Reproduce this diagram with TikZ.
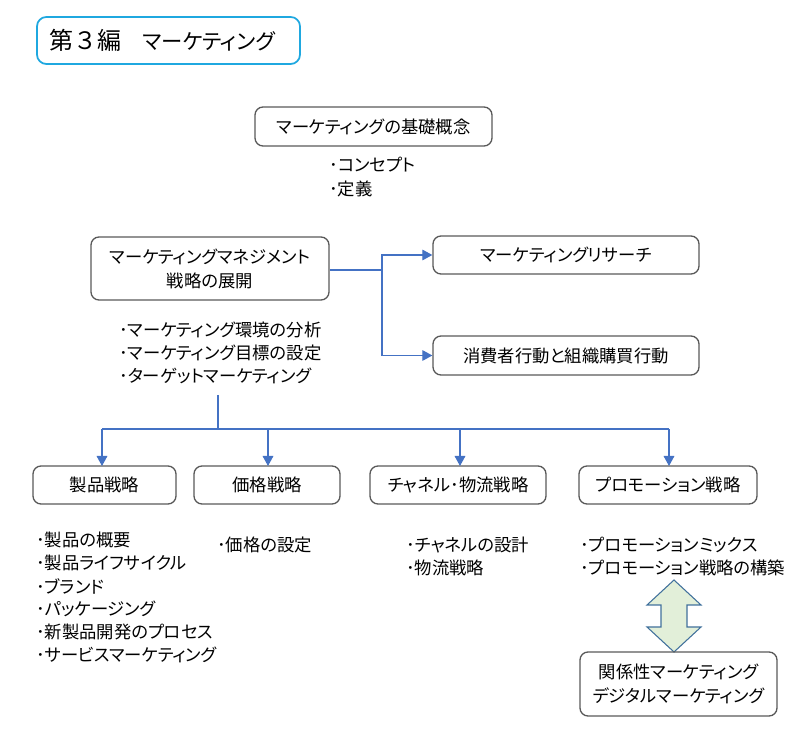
\documentclass[tikz,border=0pt]{standalone}
\usepackage{fontspec}
\setmainfont{Noto Sans CJK JP}[RawFeature=+palt]
\newfontfamily\fwfont{Noto Sans CJK JP}
\usetikzlibrary{arrows.meta}
\definecolor{conn}{HTML}{4472C4}
\definecolor{boxline}{HTML}{595959}
\definecolor{titleline}{HTML}{1FA8E0}
\definecolor{arrfill}{HTML}{E2EFD9}
\definecolor{arrline}{HTML}{41719C}
\tikzset{
  box/.style={draw=boxline, line width=1pt, rounded corners=6pt, inner sep=0pt, align=center, font=\fontsize{13}{18}\selectfont},
  conline/.style={draw=conn, line width=0.8pt},
  conarrow/.style={conline, -{Triangle[length=7.5pt,width=8pt]}},
  bul/.style={anchor=west, inner sep=0pt, font=\fontsize{13}{14}\selectfont}
}
\begin{document}
\begin{tikzpicture}[x=0.75pt,y=-0.75pt]
\useasboundingbox (0,0) rectangle (800,730);
% title
\node[draw=titleline, line width=1.3pt, rounded corners=7pt, minimum width=263*0.75pt, minimum height=47*0.75pt, inner sep=0pt] (title) at (168.5,40.5) {};
\node[anchor=west, inner sep=0pt, font=\fontsize{16}{18}\selectfont] (titletext) at (49,40.5) {{\fwfont\fontsize{18}{18}\selectfont 第３編}{\fwfont 　}マーケティング};
% top box
\node[box, minimum width=237*0.75pt, minimum height=39*0.75pt] (basic) at (373.5,126.5) {マーケティングの基礎概念};
\node[bul] (b1) at (329,165) {･コンセプト};
\node[bul] (b2) at (329,189) {･定義};
% management
\node[box, minimum width=238*0.75pt, minimum height=63*0.75pt] (mgmt) at (210,268.5) {マーケティングマネジメント\\戦略の展開};
\node[box, minimum width=266*0.75pt, minimum height=38*0.75pt] (research) at (566,255) {マーケティングリサーチ};
\node[box, minimum width=266*0.75pt, minimum height=39*0.75pt] (consumer) at (566,355.5) {消費者行動と組織購買行動};
\coordinate (split) at (382,270);
\draw[conline] (mgmt.east |- split) -- (split);
\draw[conarrow] (split) |- (research.west);
\draw[conarrow] (split) |- (consumer.west);
\node[bul] (m1) at (119,330) {･マーケティング環境の分析};
\node[bul] (m2) at (119,353) {･マーケティング目標の設定};
\node[bul] (m3) at (119,376) {･ターゲットマーケティング};
% bottom row
\node[box, minimum width=143*0.75pt, minimum height=38*0.75pt] (prod) at (104.5,485) {製品戦略};
\node[box, minimum width=146*0.75pt, minimum height=38*0.75pt] (price) at (267,485) {価格戦略};
\node[box, minimum width=176*0.75pt, minimum height=38*0.75pt] (chan) at (458,485) {チャネル･物流戦略};
\node[box, minimum width=178*0.75pt, minimum height=38*0.75pt] (promo) at (668,485) {プロモーション戦略};
\coordinate (top) at (218,395);
\coordinate (mid) at (218,429);
\draw[conline] (top) -- (mid);
\draw[conline] (102,429) -- (669,429);
\draw[conarrow] (102,429) -- (102,466);
\draw[conarrow] (268,429) -- (268,466);
\draw[conarrow] (460,429) -- (460,466);
\draw[conarrow] (669,429) -- (669,466);
% lists
\node[bul] (p1) at (36,540) {･製品の概要};
\node[bul] (p2) at (36,563) {･製品ライフサイクル};
\node[bul] (p3) at (36,586) {･ブランド};
\node[bul] (p4) at (36,609) {･パッケージング};
\node[bul] (p5) at (36,632) {･新製品開発のプロセス};
\node[bul] (p6) at (36,655) {･サービスマーケティング};
\node[bul] (pr1) at (217,545) {･価格の設定};
\node[bul] (c1) at (406,545) {･チャネルの設計};
\node[bul] (c2) at (406,568) {･物流戦略};
\node[bul] (q1) at (580,545) {･プロモーションミックス};
\node[bul] (q2) at (580,568) {･プロモーション戦略の構築};
% double arrow
\draw[draw=arrline, fill=arrfill, line width=0.8pt, line join=miter]
  (674,580) -- (701,605) -- (687,605) -- (687,627) -- (701,627) -- (674,652)
  -- (647,627) -- (661,627) -- (661,605) -- (647,605) -- cycle;
\node[box, minimum width=197*0.75pt, minimum height=64*0.75pt] (rel) at (678.5,684) {関係性マーケティング\\デジタルマーケティング};
\end{tikzpicture}
\end{document}
